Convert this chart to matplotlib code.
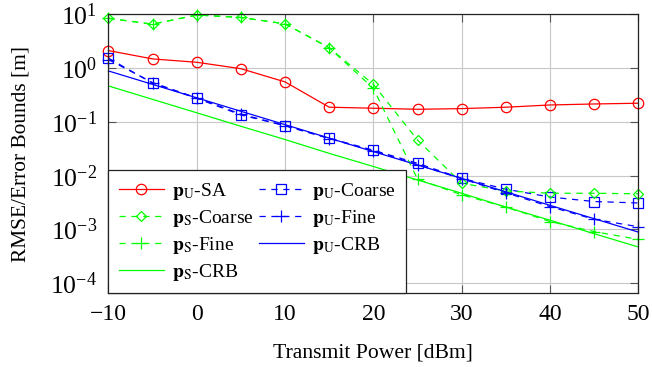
import numpy as np
import matplotlib
matplotlib.use('Agg')
import matplotlib.pyplot as plt

plt.rcParams['font.family'] = ['Liberation Serif', 'DejaVu Serif']
plt.rcParams['mathtext.fontset'] = 'stix'

# Transmit power (dBm) and RMSE / bounds (m)
power = [-10, -5, 0, 5, 10, 15, 20, 25, 30, 35, 40, 45, 50]
pu_sa = [2.13, 1.49, 1.29, 0.98, 0.556, 0.188, 0.180, 0.172, 0.177, 0.188,
         0.207, 0.216, 0.223]
pu_coarse = [1.54, 0.526, 0.276, 0.135, 0.0853, 0.0497, 0.0297, 0.0170,
             0.0089, 0.0056, 0.0040, 0.0033, 0.0031]
ps_coarse = [8.5, 6.6, 9.8, 8.8, 6.7, 2.4, 0.50, 0.046, 0.0072, 0.0052,
             0.0047, 0.0047, 0.0046]
pu_fine = [1.45, 0.54, 0.28, 0.14, 0.085, 0.049, 0.029, 0.016, 0.0088,
           0.0048, 0.00265, 0.00154, 0.00112]
ps_fine = [8.5, 6.6, 9.8, 8.8, 6.7, 2.4, 0.42, 0.0086, 0.0044, 0.0026,
           0.0014, 0.00091, 0.00065]
pu_crb = [0.89, 0.50, 0.281, 0.158, 0.089, 0.050, 0.028, 0.0158, 0.0089,
          0.0050, 0.0028, 0.00158, 0.00089]
ps_crb = [0.468, 0.263, 0.148, 0.083, 0.047, 0.026, 0.0148, 0.0083, 0.0047,
          0.0026, 0.00148, 0.00083, 0.00047]

RED, GREEN, BLUE = '#ff0000', '#00ff00', '#0000ff'
dash = (5, 4.5)

fig = plt.figure(figsize=(6.52, 3.67), dpi=100)
ax = fig.add_axes([0.1663, 0.2008, 0.8128, 0.7597])

common = dict(lw=0.9, mew=0.9, mfc='none', clip_on=False)
h_sa, = ax.plot(power, pu_sa, color=RED, marker='o', ms=7.5,
                label=r'$\mathbf{p}_{\mathrm{U}}$-SA', **common)
h_uc, = ax.plot(power, pu_coarse, color=BLUE, marker='s', ms=7,
                dashes=dash, label=r'$\mathbf{p}_{\mathrm{U}}$-Coarse', **common)
h_sc, = ax.plot(power, ps_coarse, color=GREEN, marker='D', ms=5.2,
                dashes=dash, label=r'$\mathbf{p}_{\mathrm{S}}$-Coarse', **common)
h_uf, = ax.plot(power, pu_fine, color=BLUE, marker='+', ms=8,
                dashes=dash, label=r'$\mathbf{p}_{\mathrm{U}}$-Fine', **common)
h_sf, = ax.plot(power, ps_fine, color=GREEN, marker='+', ms=8,
                dashes=dash, label=r'$\mathbf{p}_{\mathrm{S}}$-Fine', **common)
h_ucrb, = ax.plot(power, pu_crb, color=BLUE, lw=0.9,
                  label=r'$\mathbf{p}_{\mathrm{U}}$-CRB', clip_on=False)
h_scrb, = ax.plot(power, ps_crb, color=GREEN, lw=0.9,
                  label=r'$\mathbf{p}_{\mathrm{S}}$-CRB', clip_on=False)

ax.set_yscale('log')
ax.set_xlim(-10, 50)
ax.set_ylim(10 ** -4.19, 10)
ax.set_xticks([-10, 0, 10, 20, 30, 40, 50])
ax.set_yticks([1e-4, 1e-3, 1e-2, 1e-1, 1e0, 1e1])
ax.yaxis.set_minor_locator(matplotlib.ticker.NullLocator())
ax.grid(True, color='#c8c8c8', lw=0.8)
ax.set_axisbelow(True)
ax.tick_params(direction='in', length=6, width=0.8, color='#555555',
               top=True, right=True, pad=8)
ax.tick_params(axis='x', labelsize=17)
ax.tick_params(axis='y', labelsize=18.5)
for s in ax.spines.values():
    s.set_linewidth(0.9)
    s.set_color('#222222')

ax.set_xlabel('Transmit Power [dBm]', fontsize=15.6, labelpad=13)
ax.set_ylabel('RMSE/Error Bounds [m]', fontsize=15.4, labelpad=14)

handles = [h_sa, h_sc, h_sf, h_scrb, h_uc, h_uf, h_ucrb]
leg = ax.legend(handles=handles, ncol=2, loc='lower left',
                bbox_to_anchor=(0, 0), borderaxespad=0, fontsize=14,
                frameon=True, fancybox=False, edgecolor='#222222',
                framealpha=1, handlelength=2.3, handletextpad=0.4,
                columnspacing=0.3, labelspacing=0.3, borderpad=0.55)
leg.get_frame().set_linewidth(0.9)

fig.savefig('out.png', dpi=100)
